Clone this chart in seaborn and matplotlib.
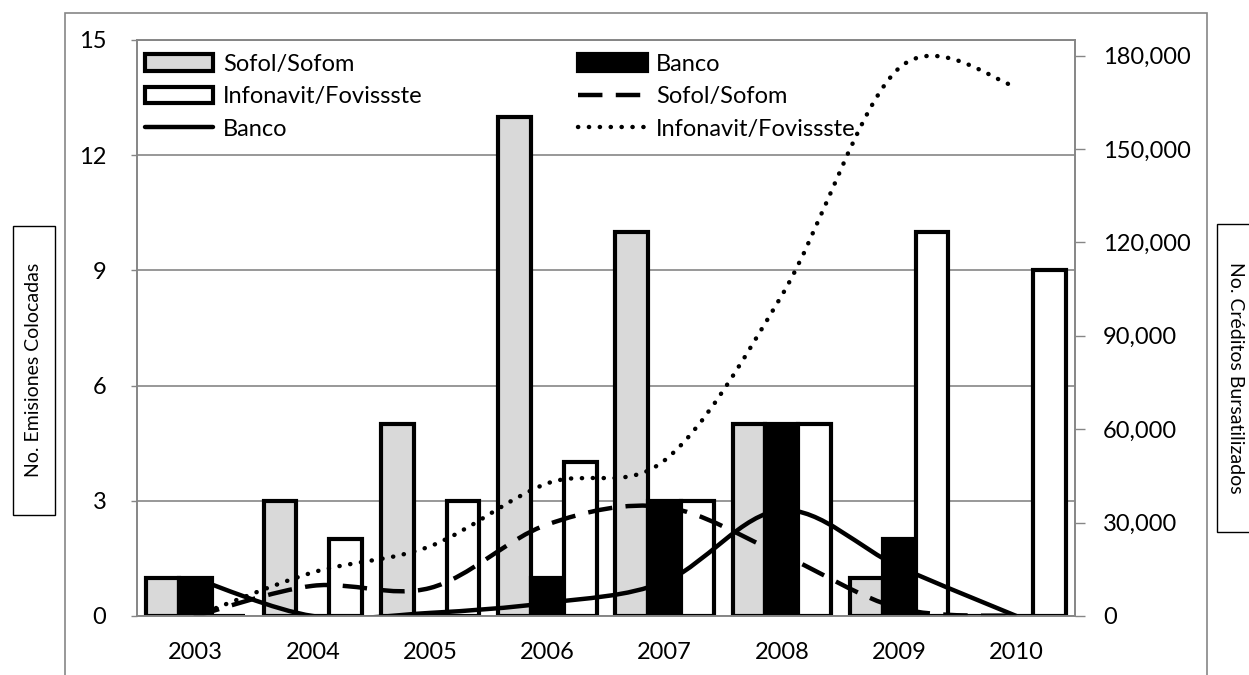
import matplotlib
matplotlib.use("Agg")
import matplotlib.pyplot as plt
import numpy as np
import pandas as pd
import seaborn as sns
from matplotlib.path import Path
from matplotlib.patches import PathPatch, Patch, Rectangle
from matplotlib.lines import Line2D
from matplotlib.ticker import FuncFormatter

# datos
years = ['2003', '2004', '2005', '2006', '2007', '2008', '2009', '2010']
tipos = ['Sofol/Sofom', 'Banco', 'Infonavit/Fovissste']

# No. emisiones colocadas (barras, eje izq)
emis_sofol = [1, 3, 5, 13, 10, 5, 1, 0]
emis_banco = [1, 0, 0, 1, 3, 5, 2, 0]
emis_infonavit = [0, 2, 3, 4, 3, 5, 10, 9]

# No. creditos bursatilizados (lineas, eje der)
cred_sofol = [0, 9700, 9000, 29400, 35000, 19700, 2500, 0]
cred_banco = [12000, 0, 1000, 4200, 11000, 34000, 15800, 0]
cred_infonavit = [0, 14000, 22400, 42600, 50000, 103000, 176000, 170000]

W, H = 1249, 675
GRIS = '#868686'

sns.set_theme(style='white')
plt.rcParams['font.family'] = ['Lato', 'DejaVu Sans']
plt.rcParams['text.color'] = 'black'

df = pd.DataFrame({'year': years, 'Sofol/Sofom': emis_sofol, 'Banco': emis_banco,
                   'Infonavit/Fovissste': emis_infonavit})
df = df.melt(id_vars='year', var_name='tipo', value_name='emisiones')

fig = plt.figure(figsize=(W / 100, H / 100), dpi=100)
fig.patch.set_facecolor('white')
ax = fig.add_axes([137 / W, 1 - 616 / H, (1075 - 137) / W, (616 - 40) / H])

sns.barplot(data=df, x='year', y='emisiones', hue='tipo', hue_order=tipos,
            palette=['#d9d9d9', 'black', 'white'], saturation=1, errorbar=None,
            edgecolor='black', linewidth=3, width=0.84, legend=False, ax=ax)

ax.set_xlim(-0.5, 7.5)
ax.set_ylim(0, 15)
ax.set_yticks(range(0, 16, 3))
ax.set_xlabel('')
ax.set_ylabel('')
ax.set_axisbelow(True)
ax.yaxis.grid(True, color=GRIS, lw=1.2)
for s in ax.spines.values():
    s.set_color(GRIS)
    s.set_linewidth(1.2)
ax.tick_params(axis='y', length=4, color=GRIS, width=1, pad=18, labelsize=17, labelcolor='black')
ax.tick_params(axis='x', length=0, pad=19, labelsize=17, labelcolor='black')

# eje secundario
ax2 = ax.twinx()
ax2.set_ylim(0, 185000)
ax2.set_yticks(range(0, 180001, 30000))
ax2.yaxis.set_major_formatter(FuncFormatter(lambda v, p: f'{v:,.0f}'))
ax2.tick_params(axis='y', length=7, color=GRIS, width=1, pad=13, labelsize=17, labelcolor='black')
for s in ax2.spines.values():
    s.set_color(GRIS)
    s.set_linewidth(1.2)


def curva(xs, ys):
    # linea suavizada tipo excel (bezier por los puntos)
    pts = np.column_stack([xs, ys]).astype(float)
    n = len(pts)
    verts = [pts[0]]
    codes = [Path.MOVETO]
    for i in range(n - 1):
        p0 = pts[max(i - 1, 0)]
        p1 = pts[i]
        p2 = pts[i + 1]
        p3 = pts[min(i + 2, n - 1)]
        verts += [p1 + (p2 - p0) / 6, p2 - (p3 - p1) / 6, p2]
        codes += [Path.CURVE4] * 3
    return Path(verts, codes)


xs = np.arange(len(years))
estilo_sofol = dict(ls=(0, (5.5, 3)), capstyle='butt')
estilo_banco = dict(ls='-', capstyle='butt')
estilo_info = dict(ls=(0, (0.05, 2.4)), capstyle='round')
for ys, st in [(cred_sofol, estilo_sofol), (cred_banco, estilo_banco), (cred_infonavit, estilo_info)]:
    pp = PathPatch(curva(xs, ys), fill=False, edgecolor='black', lw=3.2,
                   linestyle=st['ls'], capstyle=st['capstyle'])
    ax2.add_patch(pp)

# leyenda
hs = [Patch(fc='#d9d9d9', ec='black', lw=3, label='Sofol/Sofom'),
      Patch(fc='black', ec='black', lw=3, label='Banco'),
      Patch(fc='white', ec='black', lw=3, label='Infonavit/Fovissste'),
      Line2D([], [], color='black', lw=3.2, ls=(0, (5.5, 3)), label='Sofol/Sofom'),
      Line2D([], [], color='black', lw=3.2, label='Banco'),
      Line2D([], [], color='black', lw=3.2, ls=(0, (0.05, 2.4)), dash_capstyle='round',
             label='Infonavit/Fovissste')]
orden = [0, 2, 4, 1, 3, 5]
leg = ax2.legend([hs[i] for i in orden], [hs[i].get_label() for i in orden],
                 ncol=2, loc='upper left', bbox_to_anchor=(145 / W, 1 - 54 / H),
                 bbox_transform=fig.transFigure, frameon=False, fontsize=17,
                 borderpad=0, borderaxespad=0, handlelength=2.9, handletextpad=0.4,
                 labelspacing=0.48, columnspacing=6.6)

# marco exterior
fig.add_artist(Rectangle((65 / W, -0.02), (1207 - 65) / W, (675 - 13) / H + 0.02,
                         transform=fig.transFigure, fc='none', ec=GRIS, lw=1.2))

# titulos de ejes en caja
fig.add_artist(Rectangle((13 / W, 1 - 515 / H), 42 / W, 289 / H,
                         transform=fig.transFigure, fc='white', ec='black', lw=1))
fig.text(34 / W, 1 - 370 / H, 'No. Emisiones Colocadas', rotation=90,
         ha='center', va='center', fontsize=14)
fig.add_artist(Rectangle((1217 / W, 1 - 532 / H), 60 / W, 308 / H,
                         transform=fig.transFigure, fc='white', ec='black', lw=1))
fig.text(1235 / W, 1 - 378 / H, 'No. Créditos Bursatilizados', rotation=-90,
         ha='center', va='center', fontsize=14)

fig.savefig('out.png', dpi=100)
